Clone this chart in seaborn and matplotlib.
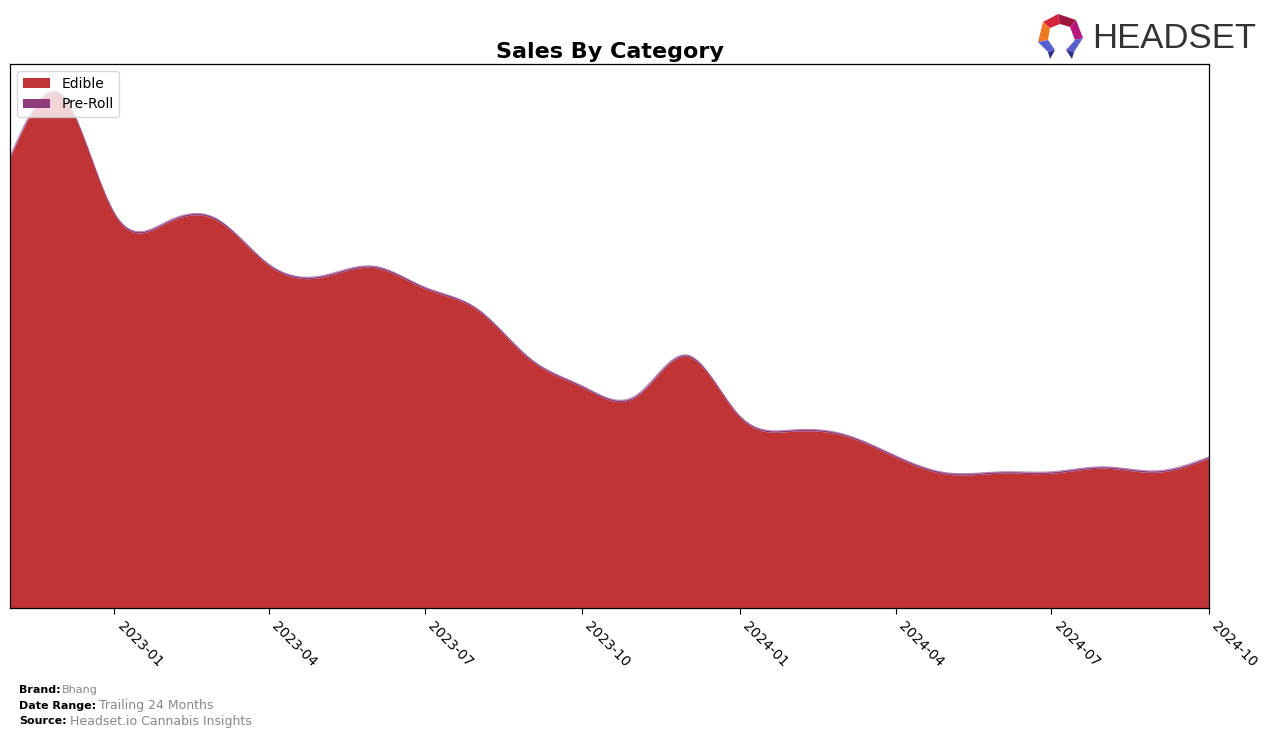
import numpy as np
import pandas as pd
import matplotlib
matplotlib.use("Agg")
import matplotlib.pyplot as plt
import matplotlib.dates as mdates
from matplotlib.patches import Polygon
import seaborn as sns

# ---- data ----
months = pd.date_range("2022-11-01", "2024-10-01", freq="MS")
edible = [451, 513, 394, 386, 389, 343, 331, 341, 320, 298, 248, 221,
          211, 252, 191, 177, 173, 151, 134, 135, 135, 140, 136, 150]
pre_roll = [1.5] * 24
categories = ["Edible", "Pre-Roll"]
colors = ["#C13435", "#8E3B7C"]
tick_labels = ["2023-01", "2023-04", "2023-07", "2023-10",
               "2024-01", "2024-04", "2024-07", "2024-10"]


def natural_spline(x, y, xs):
    x = np.asarray(x, float); y = np.asarray(y, float)
    n = len(x)
    h = np.diff(x)
    A = np.zeros((n, n)); b = np.zeros(n)
    A[0, 0] = 1; A[-1, -1] = 1
    for i in range(1, n - 1):
        A[i, i - 1] = h[i - 1]
        A[i, i] = 2 * (h[i - 1] + h[i])
        A[i, i + 1] = h[i]
        b[i] = 3 * ((y[i + 1] - y[i]) / h[i] - (y[i] - y[i - 1]) / h[i - 1])
    c = np.linalg.solve(A, b)
    out = np.empty_like(xs)
    idx = np.clip(np.searchsorted(x, xs) - 1, 0, n - 2)
    for k, xv in enumerate(xs):
        i = idx[k]
        dx = xv - x[i]
        bi = (y[i + 1] - y[i]) / h[i] - h[i] * (2 * c[i] + c[i + 1]) / 3
        di = (c[i + 1] - c[i]) / (3 * h[i])
        out[k] = y[i] + bi * dx + c[i] * dx ** 2 + di * dx ** 3
    return out


sns.set_theme(style="white")
plt.rcParams["font.family"] = ["DejaVu Sans"]
plt.rcParams["text.color"] = "black"
plt.rcParams["xtick.color"] = "black"
plt.rcParams["axes.labelcolor"] = "black"
plt.rcParams["axes.titlecolor"] = "black"

fig = plt.figure(figsize=(12.76, 7.38), dpi=100)
ax = fig.add_axes([10 / 1276, 1 - 608 / 738, 1199 / 1276, 544 / 738])

xn = mdates.date2num(months.to_pydatetime())
xs = np.linspace(xn[0], xn[-1], 800)
e_s = np.clip(natural_spline(xn, edible, xs), 0, None)
p_s = np.clip(natural_spline(xn, pre_roll, xs), 0, None)

ax.stackplot(mdates.num2date(xs), e_s, p_s, labels=categories, colors=colors,
             linewidth=0)
sns.lineplot(x=mdates.num2date(xs), y=e_s + p_s, ax=ax, color=colors[1],
             linewidth=0.7, alpha=0.6, legend=False)

ax.set_xlim(mdates.num2date(xn[0]), mdates.num2date(xn[-1]))
ax.set_ylim(0, (e_s + p_s).max() * 1.052)
ax.set_yticks([])
ticks = pd.to_datetime(tick_labels)
ax.set_xticks(ticks.to_pydatetime())
ax.set_xticklabels(tick_labels, rotation=-45, ha="left", va="top",
                   rotation_mode="default", fontsize=10, color="black")
ax.tick_params(axis="x", which="major", bottom=True, length=4, width=0.8,
               color="black", pad=4)
for s in ax.spines.values():
    s.set_visible(True)
    s.set_color("black")
    s.set_linewidth(0.9)
ax.set_xlabel(""); ax.set_ylabel("")

leg = ax.legend(loc="upper left", fontsize=10, framealpha=0.8,
                borderpad=0.4, handlelength=2)
leg.get_frame().set_edgecolor("#cccccc")
for t in leg.get_texts():
    t.set_color("black")

ax.set_title("Sales By Category", fontsize=16, fontweight="bold", pad=4,
             color="black")

# ---- footer ----
fig.text(19 / 1276, 1 - 690 / 738, "Brand:", fontsize=8, fontweight="bold",
         va="center", color="black")
fig.text(62 / 1276, 1 - 690 / 738, "Bhang", fontsize=8, va="center",
         color="#888888")
fig.text(19 / 1276, 1 - 706 / 738, "Date Range:", fontsize=8,
         fontweight="bold", va="center", color="black")
fig.text(99 / 1276, 1 - 706 / 738, "Trailing 24 Months", fontsize=9,
         va="center", color="#888888")
fig.text(19 / 1276, 1 - 721 / 738, "Source:", fontsize=8, fontweight="bold",
         va="center", color="black")
fig.text(70 / 1276, 1 - 721 / 738, "Headset.io Cannabis Insights", fontsize=9,
         va="center", color="#888888")

# ---- logo ----
fig.text(1092 / 1276, 1 - 38 / 738, "HEADSET", fontsize=25,
         family=["Liberation Sans", "DejaVu Sans"],
         color="#333333", va="center", ha="left")

def P(pts, c):
    fig.patches.append(Polygon([(x / 1276, 1 - y / 738) for x, y in pts],
                               closed=True, transform=fig.transFigure,
                               facecolor=c, edgecolor="none"))

P([(1043, 22), (1058, 14), (1060, 24), (1050, 28)], "#D6263E")
P([(1058, 14), (1076, 20), (1070, 27), (1060, 24)], "#A0173F")
P([(1076, 20), (1083, 38), (1075, 40), (1070, 27)], "#B5177A")
P([(1043, 22), (1050, 28), (1048, 40), (1038, 42)], "#F07A22")
P([(1038, 42), (1048, 40), (1055, 50), (1048, 52)], "#5A5FD0")
P([(1048, 52), (1055, 50), (1050, 59)], "#2E2E8A")
P([(1083, 38), (1075, 40), (1066, 50), (1074, 52)], "#5A5FD0")
P([(1066, 50), (1074, 52), (1072, 59)], "#2E2E8A")

fig.savefig("out.png", dpi=100)
